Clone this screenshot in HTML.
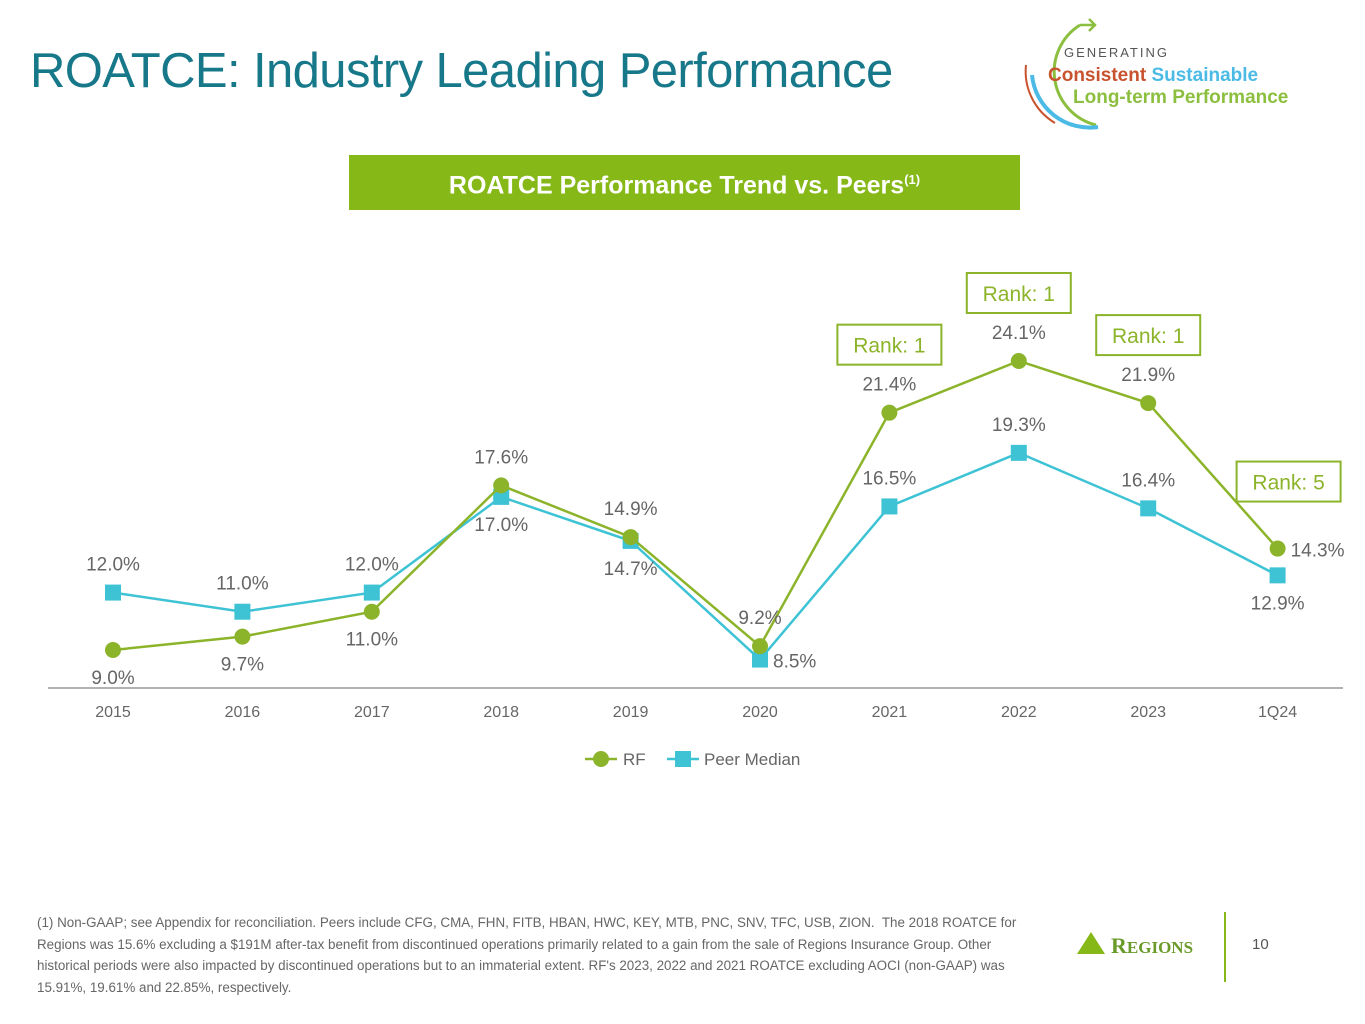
<!DOCTYPE html>
<html><head><meta charset="utf-8"><style>
body{margin:0;width:1365px;height:1024px;background:#fff;font-family:"Liberation Sans",sans-serif;position:relative;overflow:hidden}
.abs{position:absolute}
</style></head><body>
<div class="abs" style="left:30px;top:43px;font-size:49px;color:#17788a;letter-spacing:-0.6px">ROATCE: Industry Leading Performance</div>
<svg class="abs" style="left:1010px;top:15px" width="320" height="120">
<path d="M70 10 A55 55 0 0 0 86 110" fill="none" stroke="#8cbf3f" stroke-width="3"/>
<path d="M70 10 L85 10 M79 4 L85 10 L79 16" fill="none" stroke="#8cbf3f" stroke-width="2.5"/>
<path d="M16 50 A60 60 0 0 0 45 108" fill="none" stroke="#c8532e" stroke-width="2"/>
<path d="M22 60 A58 58 0 0 0 88 112" fill="none" stroke="#4bbbe6" stroke-width="4"/>
<text x="54" y="42" font-size="13" fill="#555" letter-spacing="2" font-family="Liberation Sans">GENERATING</text>
<text x="38" y="66" font-size="19" font-weight="bold" fill="#c8532e" font-family="Liberation Sans">Consistent <tspan fill="#4bbbe6">Sustainable</tspan></text>
<text x="63" y="88" font-size="19" font-weight="bold" fill="#8cbf3f" font-family="Liberation Sans">Long-term Performance</text>
</svg>
<div class="abs" style="left:349px;top:155px;width:671px;height:55px;background:#86b817;color:#fff;font-weight:bold;font-size:25px;text-align:center;line-height:50px">ROATCE Performance Trend vs. Peers<sup style="font-size:13px">(1)</sup></div>
<svg class="abs" id="chart" style="left:0;top:0" width="1365" height="800"></svg>
<div class="abs" style="left:37px;top:912px;width:1010px;font-size:13.4px;line-height:21.5px;color:#666">(1) Non-GAAP; see Appendix for reconciliation. Peers include CFG, CMA, FHN, FITB, HBAN, HWC, KEY, MTB, PNC, SNV, TFC, USB, ZION.&nbsp; The 2018 ROATCE for Regions was 15.6% excluding a $191M after-tax benefit from discontinued operations primarily related to a gain from the sale of Regions Insurance Group. Other historical periods were also impacted by discontinued operations but to an immaterial extent. RF's 2023, 2022 and 2021 ROATCE excluding AOCI (non-GAAP) was 15.91%, 19.61% and 22.85%, respectively.</div>
<svg class="abs" style="left:1075px;top:928px" width="150" height="30">
<polygon points="2,26 16,4 30,26" fill="#86b817"/>
<text x="36" y="25" font-family="Liberation Serif" font-size="22" fill="#6a9a2a" font-weight="bold">R<tspan font-size="17">EGIONS</tspan></text>
</svg>
<div class="abs" style="left:1224px;top:912px;width:2px;height:70px;background:#86b817"></div>
<div class="abs" style="left:1252px;top:936px;font-size:15px;color:#555">10</div>
<script>
const categories=["2015","2016","2017","2018","2019","2020","2021","2022","2023","1Q24"];
const rfValues=[9.0,9.7,11.0,17.6,14.9,9.2,21.4,24.1,21.9,14.3];
const peerValues=[12.0,11.0,12.0,17.0,14.7,8.5,16.5,19.3,16.4,12.9];
const rfLabelPos=["below","below","below","above","above","above","above","above","above","right"];
const peerLabelPos=["above","above","above","below","below","right","above","above","above","below"];
const ranks=[null,null,null,null,null,null,"Rank: 1","Rank: 1","Rank: 1","Rank: 5"];
const svg=document.getElementById('chart');
const NS='http://www.w3.org/2000/svg';
const x=i=>113+i*129.4;
const y=v=>650-(v-9)*19.14;
function mk(t,a){const e=document.createElementNS(NS,t);for(const k in a)e.setAttribute(k,a[k]);svg.appendChild(e);return e;}
const ax=mk('line',{x1:48,x2:1343,y1:688,y2:688,stroke:'#999','stroke-width':1.5});


categories.forEach((c,i)=>{const t=mk('text',{x:x(i),y:717,'text-anchor':'middle','font-size':16,fill:'#666'});t.textContent=c;

});
function series(vals,color,pos,name,marker){
 const p=mk('polyline',{points:vals.map((v,i)=>x(i)+','+y(v)).join(' '),fill:'none',stroke:color,'stroke-width':2.5});
 
 
 vals.forEach((v,i)=>{let m;
  if(marker==='c')m=mk('circle',{cx:x(i),cy:y(v),r:8,fill:'#8cb42a'});
  else m=mk('rect',{x:x(i)-8,y:y(v)-8,width:16,height:16,fill:'#3ec3d5'});
  
  
  let lx=x(i),ly=y(v),anc='middle';
  if(pos[i]==='above')ly-=22;else if(pos[i]==='below')ly+=34;else{lx+=13;ly+=8;anc='start';}
  const t=mk('text',{x:lx,y:ly,'text-anchor':anc,'font-size':19,fill:'#666'});t.textContent=v.toFixed(1)+'%';
  
  
 });
}
series(peerValues,'#3ec3d5',peerLabelPos,'peer-median','s');
series(rfValues,'#8cb42a',rfLabelPos,'rf','c');
ranks.forEach((r,i)=>{if(!r)return;
 const v=rfValues[i];let cy=y(v)-68, cx=x(i);
 if(i===9){cy=y(v)-67;cx=x(i)+11;}
 const b=mk('rect',{x:cx-52,y:cy-20,width:104,height:40,fill:'#fff',stroke:'#8cb42a','stroke-width':2});
 
 
 const t=mk('text',{x:cx,y:cy+8,'text-anchor':'middle','font-size':21,fill:'#8cb42a'});t.textContent=r;
 
 
});
const l1=mk('line',{x1:585,x2:617,y1:759,y2:759,stroke:'#8cb42a','stroke-width':2.5});


mk('circle',{cx:601,cy:759,r:8,fill:'#8cb42a'});
const lt1=mk('text',{x:623,y:765,'font-size':17,fill:'#666'});lt1.textContent='RF';


const l2=mk('line',{x1:667,x2:699,y1:759,y2:759,stroke:'#3ec3d5','stroke-width':2.5});


mk('rect',{x:675,y:751,width:16,height:16,fill:'#3ec3d5'});
const lt2=mk('text',{x:704,y:765,'font-size':17,fill:'#666'});lt2.textContent='Peer Median';


</script>
</body></html>
